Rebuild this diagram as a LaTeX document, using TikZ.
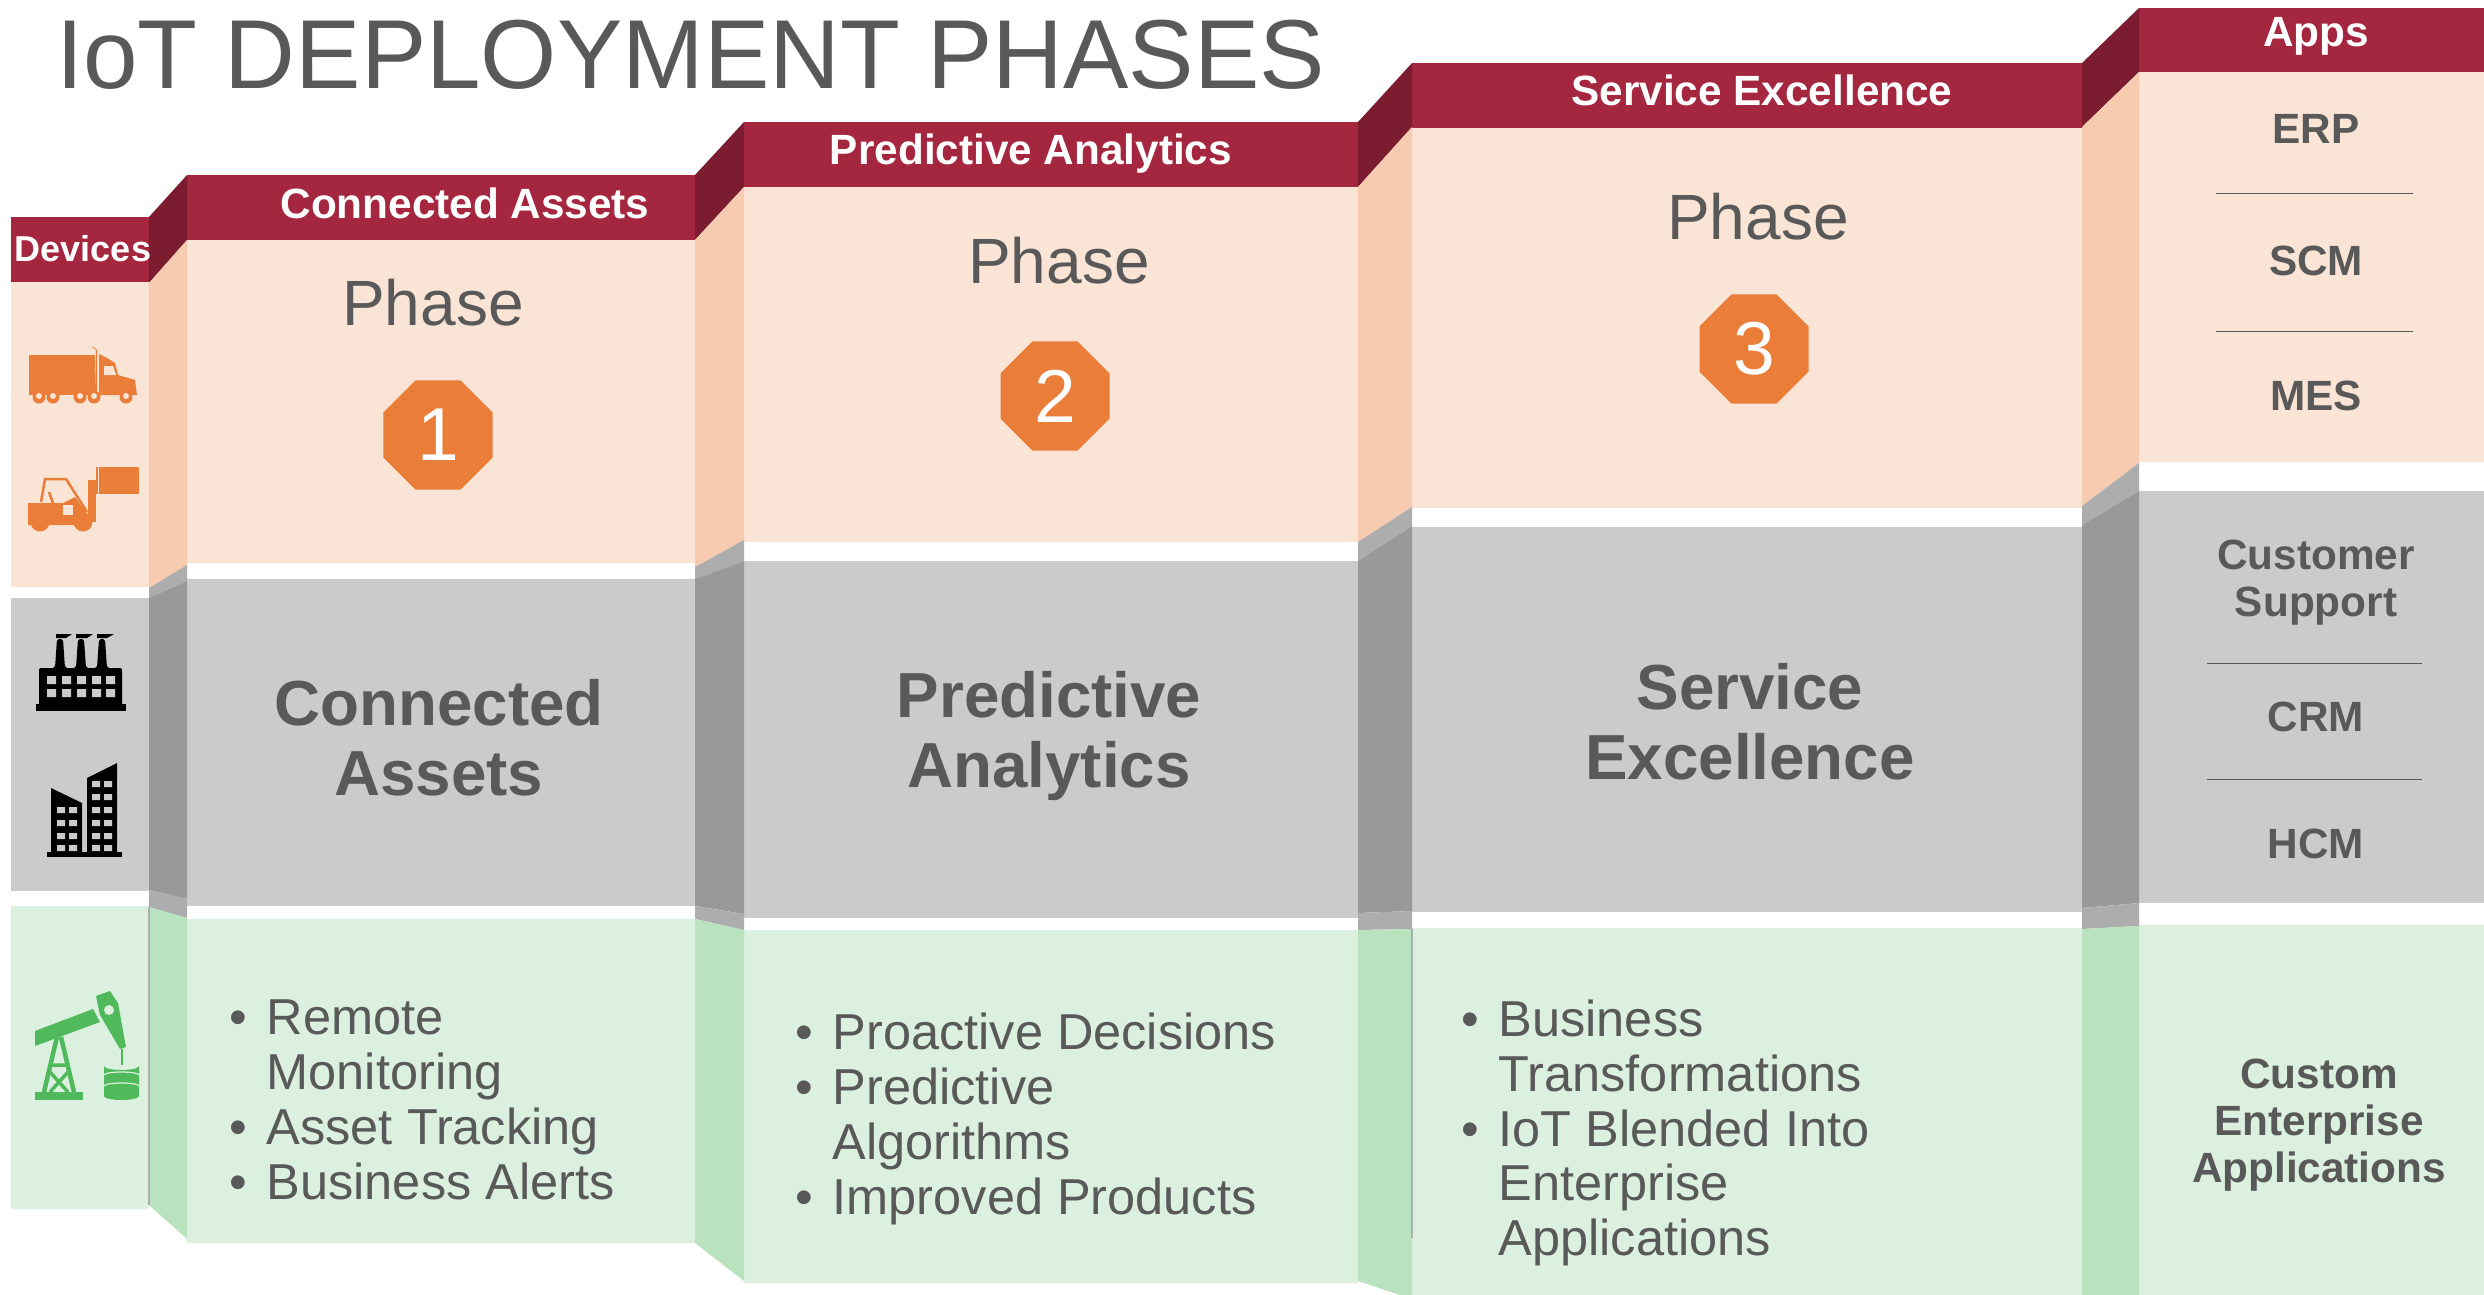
\documentclass[tikz,border=0pt]{standalone}
\usepackage{fontspec}
\setmainfont{Liberation Sans}
\usetikzlibrary{positioning}
\usetikzlibrary{shapes.geometric}
\definecolor{hdrred}{HTML}{A5263F}
\definecolor{hdrside}{HTML}{7B1C30}
\definecolor{peach}{HTML}{FAE4D5}
\definecolor{peachside}{HTML}{F6CBB0}
\definecolor{midgray}{HTML}{CBCBCB}
\definecolor{grayside}{HTML}{999999}
\definecolor{grayband}{HTML}{ADADAD}
\definecolor{mint}{HTML}{DBF0DE}
\definecolor{mintside}{HTML}{B9E3BF}
\definecolor{orangeicon}{HTML}{EA7D37}
\definecolor{greenicon}{HTML}{4FB95B}
\definecolor{txtgray}{HTML}{595959}
\newcommand{\blt}{\makebox[37.5pt][l]{•}}
\newcommand{\bltgap}{\hspace*{37.5pt}}
\begin{document}
\begin{tikzpicture}[x=1pt,y=-1pt,inner sep=0pt,
				hdrtext/.style={text=white,font=\fontsize{42.3}{47}\selectfont\bfseries},
				phasetext/.style={text=txtgray,font=\fontsize{64}{70}\selectfont},
				phasenum/.style={shape=regular polygon,regular polygon sides=8,fill=orangeicon,minimum size=118pt,text=white,font=\fontsize{75}{80}\selectfont},
				bigtitle/.style={text=txtgray,align=center,font=\fontsize{63.7}{70}\selectfont\bfseries},
				bulletlist/.style={text=txtgray,align=left,anchor=west,font=\fontsize{50.5}{54.8}\selectfont},
				apptext/.style={text=txtgray,align=center,font=\fontsize{42.3}{47}\selectfont\bfseries},
				applabelrule/.style={draw=txtgray,line width=1pt},
				edgeline/.style={draw=grayband,line width=1.5pt}]
				\useasboundingbox (0,0) rectangle (2484,1295);
				
				% title
				\node[anchor=west,text=txtgray,font=\fontsize{98}{110}\selectfont] (title) at (56,55) {IoT DEPLOYMENT PHASES};
				
				% front panels
				\fill[hdrred] (11,217) rectangle (149,282);
				\fill[peach] (11,282) rectangle (149,587);
				\fill[midgray] (11,598) rectangle (149,891);
				\fill[mint] (11,906) rectangle (149,1209);
				
				\fill[hdrred] (187,175) rectangle (695,240);
				\fill[peach] (187,240) rectangle (695,563);
				\fill[midgray] (187,579) rectangle (695,906);
				\fill[mint] (187,919) rectangle (695,1243);
				
				\fill[hdrred] (744,122) rectangle (1358,187);
				\fill[peach] (744,187) rectangle (1358,542);
				\fill[midgray] (744,561) rectangle (1358,918);
				\fill[mint] (744,930) rectangle (1358,1283);
				
				\fill[hdrred] (1412,63) rectangle (2082,128);
				\fill[peach] (1412,128) rectangle (2082,508);
				\fill[midgray] (1412,527) rectangle (2082,912);
				\fill[mint] (1412,928) rectangle (2082,1295);
				
				\fill[hdrred] (2139,8) rectangle (2484,72);
				\fill[peach] (2139,72) rectangle (2484,462);
				\fill[midgray] (2139,491) rectangle (2484,903);
				\fill[mint] (2139,925) rectangle (2484,1295);
				
				% slanted sides between the panels
				\fill[hdrside] (149,217) -- (187,175) -- (187,240) -- (149,283) -- cycle;
				\fill[peachside] (149,283) -- (187,240) -- (187,565) -- (149,588) -- cycle;
				\fill[grayband] (149,588) -- (187,565) -- (187,581) -- (149,598) -- cycle;
				\fill[grayside] (149,598) -- (187,581) -- (187,899) -- (149,890) -- cycle;
				\fill[grayband] (149,890) -- (187,899) -- (187,918) -- (149,907) -- cycle;
				\fill[mintside] (149,907) -- (187,918) -- (187,1239) -- (149,1205) -- cycle;
				
				\fill[hdrside] (695,175) -- (744,122) -- (744,187) -- (695,240) -- cycle;
				\fill[peachside] (695,240) -- (744,187) -- (744,540) -- (695,567) -- cycle;
				\fill[grayband] (695,567) -- (744,540) -- (744,561) -- (695,579) -- cycle;
				\fill[grayside] (695,579) -- (744,561) -- (744,914) -- (695,906) -- cycle;
				\fill[grayband] (695,906) -- (744,914) -- (744,930) -- (695,919) -- cycle;
				\fill[mintside] (695,919) -- (744,930) -- (744,1281) -- (695,1243) -- cycle;
				
				\fill[hdrside] (1358,122) -- (1412,63) -- (1412,127) -- (1358,187) -- cycle;
				\fill[peachside] (1358,187) -- (1412,127) -- (1412,507) -- (1358,542) -- cycle;
				\fill[grayband] (1358,542) -- (1412,507) -- (1412,526) -- (1358,561) -- cycle;
				\fill[grayside] (1358,561) -- (1412,526) -- (1412,911) -- (1358,913) -- cycle;
				\fill[grayband] (1358,913) -- (1412,911) -- (1412,929) -- (1358,930) -- cycle;
				\fill[mintside] (1358,930) -- (1412,929) -- (1412,1295) -- (1400,1295) -- (1358,1281) -- cycle;
				
				\fill[hdrside] (2082,63) -- (2139,8) -- (2139,72) -- (2082,127) -- cycle;
				\fill[peachside] (2082,127) -- (2139,72) -- (2139,463) -- (2082,506) -- cycle;
				\fill[grayband] (2082,506) -- (2139,463) -- (2139,491) -- (2082,525) -- cycle;
				\fill[grayside] (2082,525) -- (2139,491) -- (2139,903) -- (2082,908) -- cycle;
				\fill[grayband] (2082,908) -- (2139,903) -- (2139,926) -- (2082,929) -- cycle;
				\fill[mintside] (2082,929) -- (2139,926) -- (2139,1295) -- (2082,1295) -- cycle;
				
				\draw[edgeline] (149,907) -- (149,1205);
				\draw[edgeline] (1412,929) -- (1412,1238);
				
				% header labels
				\node[hdrtext,font=\fontsize{36}{40}\selectfont\bfseries] (devices) at (83,249) {Devices};
				\node[hdrtext] (hdrone) at (465,203) {Connected Assets};
				\node[hdrtext] (hdrtwo) at (1031,154) {Predictive Analytics};
				\node[hdrtext] (hdrthree) at (1762,90) {Service Excellence};
				\node[hdrtext] (apps) at (2316,36) {Apps};
				
				% phases
				\node[phasetext] (phaseone) at (433,303) {Phase};
				\node[phasenum] (numone) at (438,435) {1};
				\node[phasetext] (phasetwo) at (1059,261) {Phase};
				\node[phasenum] (numtwo) at (1055,396) {2};
				\node[phasetext] (phasethree) at (1758,217) {Phase};
				\node[phasenum] (numthree) at (1754,349) {3};
				
				% gray row
				\node[bigtitle] (titleone) at (439,738) {Connected\\Assets};
				\node[bigtitle] (titletwo) at (1049,736) {Predictive\\Analytics};
				\node[bigtitle] (titlethree) at (1750,722) {Service\\Excellence};
				
				% green row
				\node[bulletlist] (listone) at (229,1100) {\blt Remote\\\bltgap Monitoring\\\blt Asset Tracking\\\blt Business Alerts};
				\node[bulletlist] (listtwo) at (795,1119) {\blt Proactive Decisions\\\blt Predictive\\\bltgap Algorithms\\\blt Improved Products};
				\node[bulletlist] (listthree) at (1461,1133) {\blt Business\\\bltgap Transformations\\\blt IoT Blended Into\\\bltgap Enterprise\\\bltgap Applications};
				
				% apps column
				\node[apptext] (erp) at (2316,129) {ERP};
				\draw[applabelrule] (2216,193) -- (2413,193);
				\node[apptext] (scm) at (2316,261) {SCM};
				\draw[applabelrule] (2216,331) -- (2413,331);
				\node[apptext] (mes) at (2316,396) {MES};
				\node[apptext] (support) at (2316,583) {Customer\\Support};
				\draw[applabelrule] (2207,663) -- (2422,663);
				\node[apptext] (crm) at (2316,717) {CRM};
				\draw[applabelrule] (2207,779) -- (2422,779);
				\node[apptext] (hcm) at (2316,844) {HCM};
				\node[apptext] (custom) at (2319,1125) {Custom\\Enterprise\\Applications};
				
				% truck
				\fill[orangeicon] (29,355) rectangle (95,395);
				\fill[orangeicon] (95,348) -- (91,346) -- (96,350) -- (95,395) -- (97,395) -- (97,350) -- cycle;
				\fill[orangeicon] (99,354) -- (107,358) -- (115,363) -- (118,375) -- (135,380) -- (137,395) -- (99,395) -- cycle;
				\fill[peach] (104,366) -- (113,366) -- (116,375) -- (104,375) -- cycle;
				\fill[orangeicon] (39,397) circle (6.5) (53,397) circle (6.5) (80,397) circle (6.5) (94,397) circle (6.5) (126,397) circle (6.5);
				\fill[peach] (39,396) circle (3) (53,396) circle (3) (80,396) circle (3) (94,396) circle (3) (126,396) circle (3);
				
				% forklift
				\fill[orangeicon] (99,467) rectangle (139,494);
				\fill[orangeicon] (96,467) rectangle (98,494);
				\fill[orangeicon] (88,480) rectangle (96,522);
				\draw[orangeicon,line width=2.5pt] (41,502) -- (45,479) -- (66,479) -- (87,512);
				\draw[orangeicon,line width=2.5pt] (49,492) -- (53,503);
				\fill[orangeicon] (28,503) -- (63,503) -- (75,497) -- (88,515) -- (90,525) -- (28,525) -- cycle;
				\fill[peach] (63,505) rectangle (73,515);
				\fill[orangeicon] (40,522) circle (9.5) (83,522) circle (9.5);
				
				% factory
				\fill[black] (36,704) rectangle (126,711);
				\fill[black,rounded corners=2pt] (39,706) -- (39,668) -- (55,668) -- (57,639) -- (63,639) -- (65,668) -- (76,668) -- (78,639) -- (84,639) -- (86,668) -- (97,668) -- (99,639) -- (105,639) -- (107,668) -- (122,668) -- (122,706) -- cycle;
				\fill[black] (56,634) -- (72,634) -- (66,638) -- (56,638) -- cycle (76,634) -- (93,634) -- (87,638) -- (76,638) -- cycle (97,634) -- (114,634) -- (107,638) -- (97,638) -- cycle;
				\fill[midgray] (47,676) rectangle +(9,8) (62,676) rectangle +(9,8) (77,676) rectangle +(9,8) (92,676) rectangle +(9,8) (106,676) rectangle +(9,8);
				\fill[midgray] (47,689) rectangle +(9,8) (62,689) rectangle +(9,8) (77,689) rectangle +(9,8) (92,689) rectangle +(9,8) (106,689) rectangle +(9,8);
				
				% office towers
				\fill[black] (47,852) rectangle (122,857);
				\fill[black] (51,853) -- (51,788) -- (82,803) -- (82,853) -- cycle;
				\fill[black] (87,853) -- (87,778) -- (117,763) -- (117,853) -- cycle;
				\fill[midgray] (57,807) rectangle +(8,6) (69,807) rectangle +(8,6) (57,820) rectangle +(8,6) (69,820) rectangle +(8,6) (57,833) rectangle +(8,6) (69,833) rectangle +(8,6) (57,845) rectangle +(8,6) (69,845) rectangle +(8,6);
				\fill[midgray] (92,781) rectangle +(8,6) (104,781) rectangle +(8,6) (92,794) rectangle +(8,6) (104,794) rectangle +(8,6) (92,807) rectangle +(8,6) (104,807) rectangle +(8,6) (92,820) rectangle +(8,6) (104,820) rectangle +(8,6) (92,833) rectangle +(8,6) (104,833) rectangle +(8,6) (92,845) rectangle +(8,6) (104,845) rectangle +(8,6);
				
				% pump jack and barrels
				\fill[greenicon] (35,1092) rectangle (83,1100);
				\fill[greenicon] (35,1031) -- (93,1009) -- (100,1022) -- (35,1046) -- cycle;
				\fill[greenicon] (96,996) -- (110,991) -- (118,1003) -- (126,1047) -- (120,1049) -- (100,1015) -- cycle;
				\fill[mint] (109,1010) circle (5);
				\draw[greenicon,line width=2pt] (122,1049) -- (122,1065);
				\draw[greenicon,line width=4.5pt] (57,1037) -- (44,1092) (61,1037) -- (74,1092);
				\draw[greenicon,line width=3.5pt] (52,1065) -- (68,1065) (50,1072) -- (68,1092) (68,1072) -- (50,1092);
				\fill[greenicon] (104,1066) arc[start angle=180,end angle=0,x radius=17.5,y radius=4] -- (139,1096) arc[start angle=0,end angle=180,x radius=17.5,y radius=4] -- cycle;
				\draw[mint,line width=1.2pt] (104,1075) arc[start angle=180,end angle=360,x radius=17.5,y radius=3];
				\draw[mint,line width=1.2pt] (104,1086) arc[start angle=180,end angle=360,x radius=17.5,y radius=3];
				\fill[mint] (121.5,1066) ellipse (14 and 2);
				\draw[greenicon,line width=2pt] (122,1060) -- (122,1065);
				\end{tikzpicture}
\end{document}
